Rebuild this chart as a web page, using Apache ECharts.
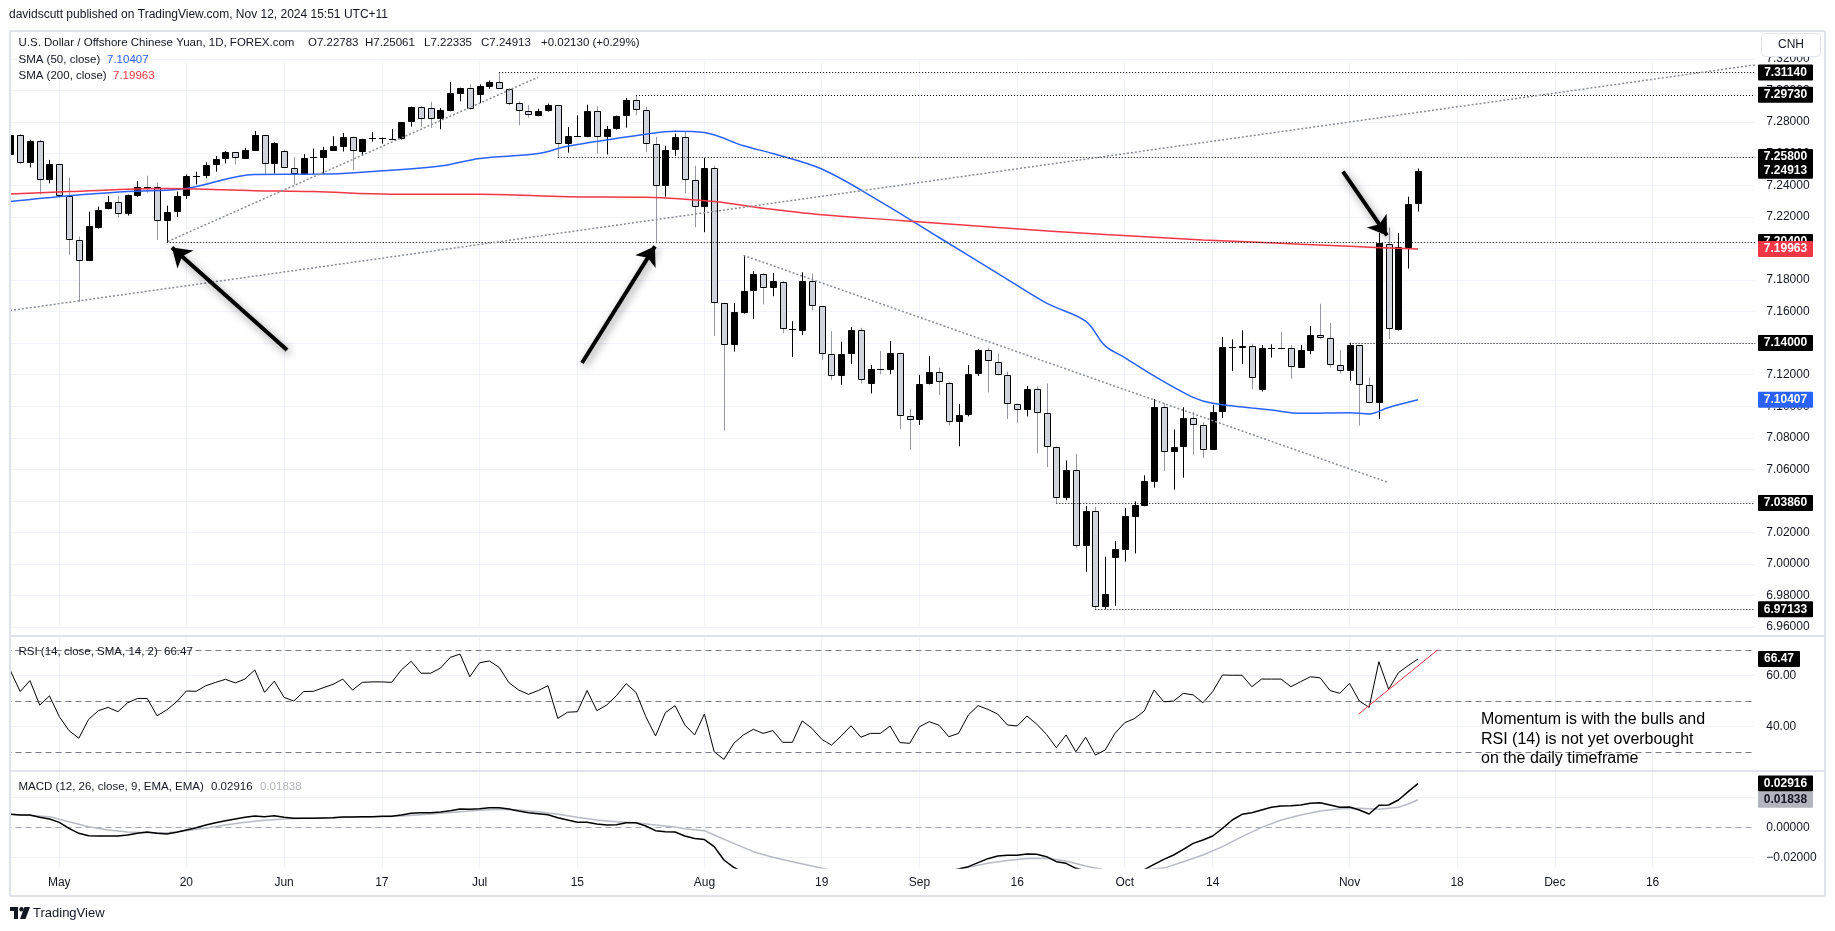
<!DOCTYPE html>
<html><head><meta charset="utf-8">
<script src="https://cdn.jsdelivr.net/npm/echarts@6/dist/echarts.min.js"></script>
<style>html,body{margin:0;padding:0;background:#fff}#c{width:1835px;height:931px}</style>
</head><body><div id="c"></div><script>
// ---------- categories ----------
const SLOTS = 179;
const dates = [];
for (let d = new Date(Date.UTC(2024, 3, 24)); dates.length < SLOTS; d.setUTCDate(d.getUTCDate() + 1)) {
  const wd = d.getUTCDay(); if (wd === 0 || wd === 6) continue;
  dates.push(d.toISOString().slice(0, 10));
}
const tickLabels = {'2024-05-01':'May','2024-05-20':'20','2024-06-03':'Jun','2024-06-17':'17','2024-07-01':'Jul','2024-07-15':'15','2024-08-01':'Aug','2024-08-19':'19','2024-09-02':'Sep','2024-09-16':'16','2024-10-01':'Oct','2024-10-14':'14','2024-11-01':'Nov','2024-11-18':'18','2024-12-02':'Dec','2024-12-16':'16'};

// ---------- OHLC ----------
const opens = [7.2592,7.2717,7.2541,7.2680,7.2433,7.2534,7.2332,7.2054,7.1922,7.2128,
7.2250,7.2297,7.2216,7.2334,7.2388,7.2389,7.2174,7.2228,7.2330,7.2458,
7.2457,7.2528,7.2566,7.2610,7.2569,7.2620,7.2717,7.2534,7.2616,7.2509,
7.2467,7.2579,7.2575,7.2620,7.2644,7.2705,7.2614,7.2699,7.2699,7.2693,
7.2692,7.2799,7.2896,7.2888,7.2822,7.2871,7.2981,7.3014,7.2974,7.3022,
7.3054,7.3011,7.2919,7.2868,7.2839,7.2868,7.2907,7.2661,7.2712,7.2707,
7.2868,7.2703,7.2755,7.2837,7.2938,7.2875,7.2661,7.2396,7.2623,7.2705,
7.2433,7.2260,7.2511,7.1651,7.1386,7.1592,7.1729,7.1836,7.1746,7.1790,
7.1484,7.1478,7.1792,7.1632,7.1329,7.1192,7.1329,7.1481,7.1140,7.1236,
7.1228,7.1336,7.0938,7.0913,7.1140,7.1216,7.1150,7.0902,7.0944,7.1203,
7.1355,7.1283,7.1197,7.1014,7.0976,7.1109,7.0957,7.0743,7.0421,7.0597,
7.0115,7.0334,6.9727,7.0040,7.0088,7.0298,7.0368,7.0519,7.0997,7.0709,
7.0740,7.0923,7.0881,7.0724,7.0961,7.1369,7.1367,7.1380,7.1102,7.1366,
7.1368,7.1367,7.1245,7.1350,7.1451,7.1430,7.1260,7.1220,7.1386,7.1134,
7.1020,7.2030,7.1482,7.2002,7.22783];
const highs = [7.2730,7.2724,7.2689,7.2689,7.2561,7.2536,7.2448,7.2076,7.2233,7.2265,
7.2333,7.2333,7.2341,7.2427,7.2461,7.2418,7.2271,7.2360,7.2469,7.2486,
7.2545,7.2585,7.2618,7.2612,7.2637,7.2744,7.2720,7.2672,7.2626,7.2580,
7.2597,7.2633,7.2644,7.2711,7.2732,7.2708,7.2695,7.2738,7.2703,7.2757,
7.2801,7.2898,7.2902,7.2929,7.2890,7.3054,7.3018,7.3039,7.3039,7.3064,
7.3114,7.3016,7.2932,7.2907,7.2885,7.2917,7.2909,7.2770,7.2843,7.2910,
7.2902,7.2776,7.2841,7.2953,7.2973,7.2896,7.2707,7.2650,7.2727,7.2738,
7.2524,7.2574,7.2524,7.1653,7.1655,7.1956,7.1855,7.1840,7.1844,7.1792,
7.1539,7.1849,7.1842,7.1634,7.1476,7.1409,7.1502,7.1497,7.1262,7.1350,
7.1413,7.1338,7.0982,7.1199,7.1319,7.1245,7.1152,7.1014,7.1260,7.1361,
7.1371,7.1333,7.1220,7.1016,7.1128,7.1125,7.1144,7.0745,7.0656,7.0698,
7.0368,7.0362,7.0046,7.0145,7.0355,7.0397,7.0562,7.1045,7.1018,7.0852,
7.0993,7.0965,7.0898,7.1009,7.1438,7.1424,7.1481,7.1396,7.1388,7.1392,
7.1470,7.1388,7.1388,7.1508,7.1649,7.1527,7.1355,7.1403,7.1388,7.1182,
7.2097,7.2132,7.2097,7.2328,7.25061];
const lows = [7.2549,7.2534,7.2513,7.2343,7.2412,7.2322,7.1960,7.1661,7.1920,7.2126,
7.2248,7.2196,7.2208,7.2326,7.2353,7.2054,7.2040,7.2198,7.2314,7.2406,
7.2444,7.2486,7.2538,7.2532,7.2566,7.2618,7.2471,7.2475,7.2509,7.2406,
7.2465,7.2471,7.2471,7.2618,7.2614,7.2496,7.2587,7.2677,7.2664,7.2690,
7.2690,7.2772,7.2770,7.2763,7.2755,7.2869,7.2932,7.2879,7.2921,7.3012,
7.3010,7.2907,7.2780,7.2828,7.2837,7.2866,7.2580,7.2607,7.2710,7.2705,
7.2601,7.2595,7.2753,7.2765,7.2843,7.2612,7.2040,7.2328,7.2585,7.2349,
7.2134,7.2103,7.1445,7.0845,7.1346,7.1586,7.1554,7.1645,7.1697,7.1462,
7.1312,7.1451,7.1607,7.1292,7.1167,7.1136,7.1266,7.1144,7.1081,7.1203,
7.1203,7.0856,7.0723,7.0881,7.1138,7.1071,7.0877,7.0746,7.0936,7.1192,
7.1087,7.1195,7.0919,7.0894,7.0936,7.0702,7.0614,7.0386,7.0404,7.0099,
6.9951,6.97133,6.9714,6.9735,7.0015,7.0067,7.0366,7.0484,7.0589,7.0471,
7.0547,7.0692,7.0673,7.0722,7.0926,7.1224,7.1266,7.1108,7.1093,7.1308,
7.1364,7.1174,7.1243,7.1329,7.1428,7.1245,7.1207,7.1161,7.0877,7.1018,
7.0919,7.1424,7.1480,7.1872,7.22335];
const closes = [7.2721,7.2543,7.2680,7.2433,7.2536,7.2332,7.2054,7.1922,7.2139,7.2244,
7.2297,7.2219,7.2339,7.2389,7.2385,7.2174,7.2233,7.2332,7.2461,7.2460,
7.2528,7.2566,7.2612,7.2574,7.2623,7.2721,7.2534,7.2669,7.2511,7.2471,
7.2574,7.2581,7.2622,7.2648,7.2705,7.2617,7.2692,7.2701,7.2701,7.2695,
7.2799,7.2896,7.2820,7.2823,7.2875,7.2984,7.3016,7.2881,7.3027,7.3054,
7.3012,7.2917,7.2868,7.2843,7.2868,7.2907,7.2664,7.2713,7.2714,7.2871,
7.2703,7.2755,7.2839,7.2938,7.2875,7.2661,7.2396,7.2623,7.2705,7.2433,
7.2260,7.2511,7.1651,7.1386,7.1596,7.1733,7.1838,7.1746,7.1792,7.1487,
7.1487,7.1792,7.1632,7.1329,7.1192,7.1329,7.1481,7.1165,7.1235,7.1234,
7.1336,7.0940,7.0915,7.1140,7.1216,7.1155,7.0902,7.0944,7.1203,7.1355,
7.1287,7.1197,7.1014,7.0976,7.1109,7.0957,7.0743,7.0421,7.0597,7.0115,
7.0334,6.9727,6.9811,7.0093,7.0303,7.0372,7.0524,7.0997,7.0709,7.0744,
7.0923,7.0881,7.0724,7.0965,7.1375,7.1373,7.1382,7.1178,7.1367,7.1368,
7.1366,7.1247,7.1355,7.1451,7.1430,7.1260,7.1222,7.1388,7.1134,7.1020,
7.2034,7.1487,7.2006,7.2280,7.24913];

// ---------- moving averages ([candle index, value]) ----------
const sma50 = [[0,7.2297],[6,7.2334],[12,7.2360],[18,7.2380],[25,7.2469],[32,7.2471],[38,7.2492],[44,7.2522],[48,7.2570],[54,7.2601],[57,7.2648],[65,7.2724],[68,7.2743],[71,7.2734],[75,7.2650],[78,7.2601],[83,7.2503],[89,7.2297],[95,7.2069],[101,7.1842],[106,7.1653],[110,7.1539],[112,7.1382],[114,7.1308],[117,7.1192],[121,7.1056],[123,7.1018],[127,7.0989],[129,7.0976],[132,7.0955],[137,7.0959],[139,7.0951],[141,7.0992],[144,7.10407]];
const sma200 = [[0,7.2345],[6,7.2360],[16,7.2379],[25,7.2366],[31,7.2360],[39,7.2343],[48,7.2343],[57,7.2328],[65,7.2324],[72,7.2297],[77,7.2254],[83,7.2213],[91,7.2177],[101,7.2132],[112,7.2088],[122,7.2054],[127,7.2040],[137,7.2013],[144,7.19963]];

// ---------- RSI ----------
const rsi = [61.9,53.7,58.0,48.4,52.0,43.9,38.4,35.4,42.8,46.2,47.5,45.8,49.3,51.0,51.0,44.2,46.5,49.7,53.9,53.8,
56.0,57.3,58.5,57.1,58.6,62.2,53.4,57.8,51.4,50.0,53.7,53.8,55.2,56.5,58.6,54.3,57.3,57.5,57.5,57.3,
62.2,65.6,60.9,60.9,62.9,67.1,68.4,59.5,65.0,65.7,63.2,57.2,54.3,52.6,54.1,56.0,43.2,45.6,45.8,54.1,
46.2,48.4,52.1,56.8,53.4,43.9,36.3,45.4,48.2,40.6,36.7,
44.9,30.1,27.1,33.4,36.7,38.9,37.3,38.4,33.8,33.8,42.2,39.3,35.0,32.7,36.3,40.3,35.8,37.3,37.3,40.2,
33.7,33.4,39.9,41.9,40.5,36.0,37.3,44.5,48.2,46.7,44.9,40.6,40.2,44.1,40.9,36.9,31.7,36.7,30.1,35.8,
28.8,30.8,37.3,41.5,43.1,46.1,54.3,49.7,50.0,53.0,52.4,49.3,53.7,60.2,60.1,60.1,55.6,58.6,58.6,58.6,
55.6,57.6,59.5,59.1,54.1,53.0,56.9,50.0,47.5,65.4,54.6,61.1,63.9,66.47];
const rsiLevels = [70, 50, 30];

// ---------- MACD ----------
const macd = [0.00865,0.0082,0.0082,0.00665,0.00553,0.00331,-0.00069,-0.00402,-0.00558,-0.0058,
-0.0058,-0.0058,-0.00513,-0.00402,-0.00313,-0.00402,-0.00447,-0.00335,-0.0018,-0.00025,
0.00153,0.00309,0.00442,0.00553,0.00665,0.00753,0.00709,0.00775,0.00665,0.00598,
0.00598,0.00598,0.0062,0.00642,0.00687,0.00687,0.00709,0.00709,0.00731,0.00731,
0.0082,0.00931,0.00975,0.00975,0.0102,0.01109,0.0122,0.01198,0.01242,0.01309,
0.01309,0.0122,0.01087,0.00975,0.00909,0.00842,0.00642,0.00487,0.00331,0.00331,
0.0022,0.00153,0.00175,0.00309,0.00309,0.00087,-0.00225,-0.00291,-0.00313,-0.0058,
-0.0075,-0.0082,-0.01291,-0.0218,-0.02669,-0.0300,-0.0318,-0.0335,-0.0350,-0.0368,
-0.0378,-0.0375,-0.0372,-0.0380,-0.0390,-0.0385,-0.0372,-0.0373,-0.0368,-0.0360,
-0.0362,-0.0370,-0.0355,-0.0335,-0.0318,-0.0305,-0.0292,-0.0278,-0.02624,-0.02358,
-0.02091,-0.01913,-0.01869,-0.01869,-0.0178,-0.01802,-0.01958,-0.02291,-0.02402,-0.02736,
-0.0290,-0.0320,-0.0335,-0.0330,-0.0318,-0.0300,-0.0282,-0.02469,-0.02135,-0.01847,
-0.01469,-0.01069,-0.00847,-0.0058,-0.00069,0.00487,0.00865,0.00975,0.01153,0.01331,
0.0142,0.01442,0.01487,0.01598,0.01642,0.01487,0.01331,0.01353,0.01153,0.00887,
0.01465,0.01487,0.0182,0.02375,0.02916];
const macdSignal = [[0,0.00865],[4,0.00709],[6,0.00375],[8,0.00042],[10,-0.0018],[12,-0.00313],[14,-0.00358],[16,-0.00358],[18,-0.00225],[20,-0.00047],[22,0.00153],[24,0.00331],[26,0.00465],[28,0.00553],[30,0.00598],[32,0.0062],[34,0.00665],[38,0.00709],[40,0.00753],[42,0.00842],[44,0.00931],[46,0.01042],[48,0.01131],[50,0.01198],[52,0.01153],[54,0.01042],[56,0.00865],[58,0.00665],[60,0.00487],[62,0.00375],[64,0.00309],[66,0.00153],[68,0.0002],[69,-0.0010],[71,-0.00225],[72,-0.00513],[74,-0.01069],[76,-0.01625],[78,-0.02002],[80,-0.02291],[82,-0.0258],[84,-0.0287],[86,-0.0305],[88,-0.0320],[90,-0.0328],[92,-0.0330],[94,-0.0322],[96,-0.0300],[98,-0.0266],[100,-0.0240],[102,-0.0222],[104,-0.0208],[106,-0.0206],[108,-0.0225],[110,-0.0258],[112,-0.0285],[114,-0.0292],[116,-0.0283],[118,-0.0272],[120,-0.02291],[122,-0.01847],[124,-0.01291],[126,-0.00624],[128,-0.00002],[130,0.00487],[132,0.0082],[134,0.01087],[136,0.01242],[138,0.01264],[140,0.01198],[142,0.01331],[143,0.01553],[144,0.01838]];

// ---------- drawn annotations (candle index, price) ----------
const hLevels = [[50,7.3114],[64,7.2973],[56,7.2580],[16,7.2040],[137,7.1400],[107,7.0386],[111,6.97133]];
const trendLines = [[[-0.04,7.1606],[178.5,7.3163]],[[16.1,7.2044],[54.0,7.3085]],[[75.0,7.1956],[140.8,7.0520]]];
const arrows = [[[28.3,7.1356],[16.53,7.2006]],[[58.47,7.1274],[65.94,7.2013]],[[136.33,7.2486],[140.83,7.2082]]];
const rsiTrend = [[137.9,44.8],[146.0,70]];
const lastPrice = 7.24913, lastSma50 = 7.10407, lastSma200 = 7.19963, lastRsi = 66.47, lastSignal = 0.01838;

// ---------- chart ----------
const F = '"Liberation Sans", Arial, sans-serif';
const GL = 5.51, GW = 1749.7;
const gridIdx = Object.keys(tickLabels).map(k => dates.indexOf(k));
const GRID = '#f0f3fa';

function renderCandle(params, api) {
  const i = api.value(0), o = api.value(1), c = api.value(2), l = api.value(3), h = api.value(4);
  const pO = api.coord([i, o]), pC = api.coord([i, c]);
  const yL = api.coord([i, l])[1], yH = api.coord([i, h])[1];
  const x = Math.round(pO[0]);
  const up = c >= o;
  const top = Math.round(Math.min(pO[1], pC[1])), bot = Math.round(Math.max(pO[1], pC[1]));
  const kids = [{type:'line', shape:{x1:x+0.5, y1:yH, x2:x+0.5, y2:yL}, style:{stroke: up ? '#000' : '#9598a1', lineWidth:1}}];
  if (bot - top < 2) {
    kids.push({type:'line', shape:{x1:x-3, y1:top+0.5, x2:x+4, y2:top+0.5}, style:{stroke:'#000', lineWidth:1}});
  } else {
    kids.push({type:'rect', shape:{x:x-2.5, y:top+0.5, width:6, height:bot-top-1}, style:{fill: up ? '#000' : '#d1d4dc', stroke:'#000', lineWidth:1}});
  }
  return {type:'group', children: kids};
}

const vLines = (xi) => ({type:'line', xAxisIndex:xi, yAxisIndex:xi, data:[], silent:true, z:1,
  markLine:{z:1, silent:true, symbol:'none', animation:false, label:{show:false}, lineStyle:{color:GRID, width:1, type:'solid'},
    data: gridIdx.map(i => ({xAxis: dates[i]}))}});

const option = {
  animation: false,
  backgroundColor: '#fff',
  grid: [
    {left: GL, width: GW, top: 59.04, height: 568.08},
    {left: GL, width: GW, top: 636, height: 136},
    {left: GL, width: GW, top: 771, height: 97}
  ],
  xAxis: [0,1,2].map(i => ({
    type:'category', gridIndex:i, data:dates, boundaryGap:true,
    axisLine:{show:false}, axisTick:{show:false}, splitLine:{show:false},
    axisLabel: i === 2 ? {show:true, interval:(idx, val) => tickLabels[val] !== undefined, formatter: v => tickLabels[v] || '', color:'#131722', fontSize:12, fontFamily:F, margin:9, hideOverlap:false} : {show:false}
  })).concat([0,1].map(i => ({type:'value', gridIndex:i, min:-0.5, max:SLOTS-0.5, show:false}))),
  yAxis: [
    {type:'value', gridIndex:0, position:'right', min:6.96, max:7.32, interval:0.02,
      axisLine:{show:false}, axisTick:{show:false}, splitLine:{lineStyle:{color:GRID}},
      axisLabel:{margin:11, color:'#131722', fontSize:12, fontFamily:F, formatter: v => v.toFixed(5)}},
    {type:'value', gridIndex:1, position:'right', min:22.16, max:75.49, minInterval:20, maxInterval:20,
      axisLine:{show:false}, axisTick:{show:false}, splitLine:{show:false},
      axisLabel:{margin:11, color:'#131722', fontSize:12, fontFamily:F, showMinLabel:false, showMaxLabel:false,
        formatter: v => (Math.abs(v-40) < 0.01 || Math.abs(v-60) < 0.01) ? v.toFixed(2) : ''}},
    {type:'value', gridIndex:2, position:'right', min:-0.02713, max:0.03753, minInterval:0.02, maxInterval:0.02,
      axisLine:{show:false}, axisTick:{show:false}, splitLine:{show:false},
      axisLabel:{margin:11, color:'#131722', fontSize:12, fontFamily:F, showMinLabel:false, showMaxLabel:false,
        formatter: v => Math.abs(v) < 1e-6 ? '0.00000' : (Math.abs(v+0.02) < 1e-6 ? '\u22120.02000' : (Math.abs(v-0.02) < 1e-6 ? '0.02000' : ''))}}
  ],
  series: [
    vLines(0), vLines(1), vLines(2),
    {type:'custom', name:'USDCNH', xAxisIndex:0, yAxisIndex:0, z:3, renderItem: renderCandle,
      encode:{x:0, y:[1,2,3,4]}, data: opens.map((o, i) => [i, o, closes[i], lows[i], highs[i]])},
    {type:'line', name:'SMA50', xAxisIndex:0, yAxisIndex:0, data:sma50, smooth:0.35, showSymbol:false, z:4,
      lineStyle:{color:'#2962ff', width:1.5}},
    {type:'line', name:'SMA200', xAxisIndex:0, yAxisIndex:0, data:sma200, smooth:0.35, showSymbol:false, z:4,
      lineStyle:{color:'#f23645', width:1.5}},
    {type:'line', name:'levels', xAxisIndex:3, yAxisIndex:0, data:[], z:5,
      markLine:{silent:true, symbol:'none', animation:false, label:{show:false}, lineStyle:{color:'#000', width:1.2, type:[1,2]},
        data: hLevels.map(([s, v]) => [{coord:[s, v]}, {coord:[SLOTS-0.5, v]}])}},
    {type:'line', name:'trends', xAxisIndex:3, yAxisIndex:0, data:[], z:5,
      markLine:{silent:true, symbol:'none', animation:false, label:{show:false}, lineStyle:{color:'#8a8d96', width:1.5, type:[2,2]},
        data: trendLines.map(([a, b]) => [{coord:a}, {coord:b}])}},
    {type:'line', name:'arrows', xAxisIndex:3, yAxisIndex:0, data:[], z:6,
      markLine:{silent:true, symbol:['none','arrow'], symbolSize:18, animation:false, label:{show:false},
        lineStyle:{color:'#000', width:4, type:'solid', shadowBlur:8, shadowColor:'rgba(0,0,0,0.45)', shadowOffsetX:2, shadowOffsetY:3},
        data: arrows.map(([a, b]) => [{coord:a}, {coord:b}])}},
    {type:'line', name:'RSI', xAxisIndex:1, yAxisIndex:1, data:rsi, showSymbol:false, z:4,
      lineStyle:{color:'#000', width:1},
      markLine:{z:2, silent:true, symbol:'none', animation:false, label:{show:false},
        data: [{yAxis:60, lineStyle:{color:GRID, width:1, type:'solid'}}, {yAxis:40, lineStyle:{color:GRID, width:1, type:'solid'}}]
          .concat(rsiLevels.map(v => ({yAxis:v, lineStyle:{color:'#787b86', width:1, type:[6,4]}})))}},
    {type:'line', name:'rsiTrend', xAxisIndex:4, yAxisIndex:1, data:[], z:5,
      markLine:{silent:true, symbol:'none', animation:false, label:{show:false}, lineStyle:{color:'#f23645', width:1, type:'solid'},
        data:[[{coord:rsiTrend[0]}, {coord:rsiTrend[1]}]]}},
    {type:'line', name:'MACD', xAxisIndex:2, yAxisIndex:2, data:macd, showSymbol:false, z:4,
      lineStyle:{color:'#000', width:1.5},
      markLine:{z:2, silent:true, symbol:'none', animation:false, label:{show:false},
        data:[{yAxis:0.02, lineStyle:{color:GRID, width:1, type:'solid'}}, {yAxis:-0.02, lineStyle:{color:GRID, width:1, type:'solid'}},
              {yAxis:0, lineStyle:{color:'#a3a6af', width:1, type:[6,4]}}]}},
    {type:'line', name:'Signal', xAxisIndex:2, yAxisIndex:2, data:macdSignal, showSymbol:false, z:3,
      lineStyle:{color:'#b8bbc4', width:1.5}}
  ]
};

const chart = echarts.init(document.getElementById('c'), null, {renderer:'canvas', width:1835, height:931});
chart.setOption(option);

// ---------- overlay: frame, header texts, price tags ----------
const g = [];
const txt = (x, y, text, o = {}) => ({type:'text', x, y, z:100, silent:true,
  style:{text, fill:o.fill || '#131722', font:(o.weight || 'normal') + ' ' + (o.size || 11.5) + 'px ' + F, align:o.align || 'left', verticalAlign:'middle'}});
const ln = (x1, y1, x2, y2, c, w) => ({type:'line', z:95, silent:true, shape:{x1, y1, x2, y2}, style:{stroke:c, lineWidth:w}});
g.push({type:'rect', z:90, silent:true, shape:{x:0, y:30, width:10, height:868}, style:{fill:'#fff'}});
const FR = '#e0e3eb';
g.push(ln(10, 31, 1825, 31, FR, 2), ln(10, 31, 10, 896, FR, 2), ln(1825, 31, 1825, 896, FR, 2), ln(10, 896, 1825, 896, FR, 2));
g.push(ln(10, 636, 1825, 636, FR, 2), ln(10, 771, 1825, 771, FR, 2));
// header
const L = opens.length - 1;
g.push(txt(9, 14.5, 'davidscutt published on TradingView.com, Nov 12, 2024 15:51 UTC+11', {size:12}));
g.push(txt(18.5, 42.5, 'U.S. Dollar / Offshore Chinese Yuan, 1D, FOREX.com'));
g.push(txt(308, 42.5, 'O' + opens[L].toFixed(5)), txt(365, 42.5, 'H' + highs[L].toFixed(5)), txt(424, 42.5, 'L' + lows[L].toFixed(5)), txt(481, 42.5, 'C' + closes[L].toFixed(5)));
g.push(txt(541, 42.5, '+0.02130 (+0.29%)'));
g.push(txt(18.5, 59.5, 'SMA (50, close)'), txt(107, 59.5, lastSma50.toFixed(5), {fill:'#2962ff'}));
g.push(txt(18.5, 76, 'SMA (200, close)'), txt(113, 76, lastSma200.toFixed(5), {fill:'#f23645'}));
g.push(txt(18.5, 652, 'RSI (14, close, SMA, 14, 2)'), txt(164, 652, lastRsi.toFixed(2)));
g.push(txt(18.5, 787, 'MACD (12, 26, close, 9, EMA, EMA)'), txt(211, 787, macd[L].toFixed(5)), txt(260, 787, lastSignal.toFixed(5), {fill:'#b2b5be'}));
// CNH box
g.push({type:'rect', z:100, silent:true, shape:{x:1761.5, y:33.5, width:59, height:23, r:4}, style:{fill:'#fff', stroke:'#e0e3eb', lineWidth:1}});
g.push(txt(1791, 45, 'CNH', {align:'center', size:12}));
// price tags
const tags = hLevels.map(([s, v]) => ({ax:0, v, bg:'#000', fg:'#fff'}));
tags.push({ax:0, v:lastPrice, bg:'#000', fg:'#fff'});
tags.push({ax:0, v:lastSma200, bg:'#f23645', fg:'#fff'});
tags.push({ax:0, v:lastSma50, bg:'#2962ff', fg:'#fff'});
tags.sort((a, b) => b.v - a.v);
tags.push({ax:1, v:lastRsi, bg:'#000', fg:'#fff', d:2, w:42});
tags.push({ax:2, v:macd[L], bg:'#000', fg:'#fff'});
tags.push({ax:2, v:lastSignal, bg:'#b2b5be', fg:'#131722'});
tags.forEach(t => {
  const y = chart.convertToPixel({yAxisIndex:t.ax}, t.v);
  const w = t.w || 55;
  g.push({type:'rect', z:100, silent:true, shape:{x:1758, y:y-8, width:w, height:16, r:1}, style:{fill:t.bg}});
  g.push(txt(1758 + w/2, y, t.v.toFixed(t.d || 5), {fill:t.fg, weight:'bold', align:'center', size:12}));
});
// annotation text
g.push(txt(1481, 720, 'Momentum is with the bulls and', {size:16, fill:'#000'}));
g.push(txt(1481, 739.3, 'RSI (14) is not yet overbought', {size:16, fill:'#000'}));
g.push(txt(1481, 758.5, 'on the daily timeframe', {size:16, fill:'#000'}));
// logo
g.push({type:'rect', z:100, silent:true, shape:{x:10, y:907, width:8, height:4}, style:{fill:'#131722'}});
g.push({type:'rect', z:100, silent:true, shape:{x:14, y:907, width:4, height:12}, style:{fill:'#131722'}});
g.push({type:'circle', z:100, silent:true, shape:{cx:21.5, cy:909.2, r:2.2}, style:{fill:'#131722'}});
g.push({type:'polygon', z:100, silent:true, shape:{points:[[24.5,907],[30,907],[25.5,919],[20,919]]}, style:{fill:'#131722'}});
g.push(txt(33, 913, 'TradingView', {size:13}));
chart.setOption({graphic: g});
</script></body></html>
